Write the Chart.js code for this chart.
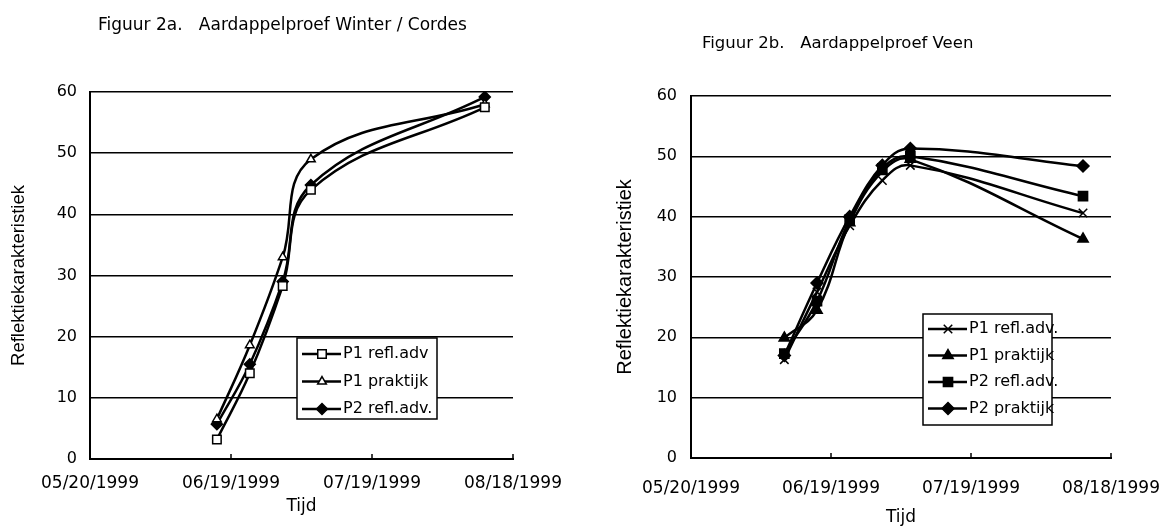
<!DOCTYPE html>
<html>
<head>
<meta charset="utf-8">
<script src="https://cdn.jsdelivr.net/npm/chart.js@4.4.1/dist/chart.umd.min.js"></script>
<style>
  body { margin:0; background:#fff; width:1164px; height:532px; position:relative; overflow:hidden; font-family:"DejaVu Sans", sans-serif; }
  .box { position:absolute; top:0; height:532px; }
  .title { position:absolute; line-height:18px; white-space:pre; color:#000; }
</style>
</head>
<body>
<div class="box" style="left:0;width:580px"><canvas id="chartA"></canvas></div>
<div class="box" style="left:580px;width:584px"><canvas id="chartB"></canvas></div>
<div class="title" style="left:98px;top:15px;font-size:17px">Figuur 2a.   Aardappelproef Winter / Cordes</div>
<div class="title" style="left:702px;top:34px;font-size:16.5px">Figuur 2b.   Aardappelproef Veen</div>
<script>
// x axis runs from startDate in steps of 30 days
var startDate = '1999-05-20';
var xStepDays = 30;
var xMaxDays = 90;
var yTicks = [0, 10, 20, 30, 40, 50, 60];

// Figuur 2a - Winter / Cordes
var datesA = ['1999-06-16', '1999-06-23', '1999-06-30', '1999-07-06', '1999-08-12'];
var labelsA = ['P1 refl.adv', 'P1 praktijk', 'P2 refl.adv.'];
var a_p1Refl = [3.2, 14, 28.3, 44, 57.5];
var a_p1Prak = [6.5, 18.6, 33, 49, 58];
var a_p2Refl = [5.7, 15.5, 29, 44.8, 59.2];

// Figuur 2b - Veen
var datesB = ['1999-06-09', '1999-06-16', '1999-06-23', '1999-06-30', '1999-07-06', '1999-08-12'];
var labelsB = ['P1 refl.adv.', 'P1 praktijk', 'P2 refl.adv.', 'P2 praktijk'];
var b_p1Refl = [16.3, 27.5, 38.5, 46, 48.5, 40.6];
var b_p1Prak = [19.9, 24.5, 39, 47.5, 49.5, 36.3];
var b_p2Refl = [17.3, 26, 39.5, 48, 50, 43.4];
var b_p2Prak = [17, 29, 40, 48.5, 51.3, 48.4];

var DAY = 86400000;
function dayOf(s) {
  var p = s.split('-');
  var p0 = startDate.split('-');
  return (Date.UTC(+p[0], p[1] - 1, +p[2]) - Date.UTC(+p0[0], p0[1] - 1, +p0[2])) / DAY;
}
function fmtDay(v) {
  var p0 = startDate.split('-');
  var d = new Date(Date.UTC(+p0[0], p0[1] - 1, +p0[2]) + v * DAY);
  var mm = ('0' + (d.getUTCMonth() + 1)).slice(-2);
  var dd = ('0' + d.getUTCDate()).slice(-2);
  return mm + '/' + dd + '/' + d.getUTCFullYear();
}
function points(dates, vals) {
  var out = [];
  for (var i = 0; i < dates.length; i++) out.push({x: dayOf(dates[i]), y: vals[i]});
  return out;
}

// legend box drawn inside the plot, like the excel original
var boxLegend = {
  id: 'boxLegend',
  afterDraw: function(chart, args, o) {
    var ctx = chart.ctx;
    ctx.save();
    ctx.fillStyle = '#fff';
    ctx.fillRect(o.x, o.y, o.w, o.h);
    ctx.lineWidth = 1.5;
    ctx.strokeStyle = '#000';
    ctx.strokeRect(o.x, o.y, o.w, o.h);
    ctx.font = '16px "DejaVu Sans", sans-serif';
    ctx.textBaseline = 'middle';
    chart.data.datasets.forEach(function(ds, i) {
      var y = o.y + o.first + i * o.step;
      ctx.strokeStyle = '#000';
      ctx.lineWidth = 2.5;
      ctx.beginPath();
      ctx.moveTo(o.x + 5, y);
      ctx.lineTo(o.x + 44, y);
      ctx.stroke();
      ctx.fillStyle = ds.pointBackgroundColor;
      ctx.strokeStyle = '#000';
      ctx.lineWidth = 1.5;
      Chart.helpers.drawPoint(ctx, {pointStyle: ds.pointStyle, radius: ds.pointRadius, borderWidth: 1.5, rotation: 0}, o.x + 25, y);
      ctx.fillStyle = '#000';
      ctx.fillText(ds.label, o.x + 46, y);
    });
    ctx.restore();
  }
};

// small tick marks pointing up from the date axis
var upTicks = {
  id: 'upTicks',
  afterDraw: function(chart) {
    var sc = chart.scales.x, ctx = chart.ctx, b = chart.chartArea.bottom;
    ctx.save();
    ctx.strokeStyle = '#000';
    ctx.lineWidth = 1.5;
    sc.ticks.forEach(function(t) {
      var px = Math.round(sc.getPixelForValue(t.value));
      ctx.beginPath();
      ctx.moveTo(px, b);
      ctx.lineTo(px, b - 5);
      ctx.stroke();
    });
    ctx.restore();
  }
};

function makeChart(id, datasets, cfg) {
  var ctx = document.getElementById(id).getContext('2d');
  return new Chart(ctx, {
    type: 'line',
    data: {datasets: datasets},
    plugins: [boxLegend, upTicks],
    options: {
      animation: false,
      responsive: true,
      maintainAspectRatio: false,
      layout: {padding: {top: cfg.top, right: cfg.right, left: 0, bottom: 0}},
      plugins: {
        legend: {display: false},
        tooltip: {enabled: false},
        boxLegend: cfg.legend
      },
      scales: {
        x: {
          type: 'linear',
          min: 0,
          max: xMaxDays,
          afterFit: function(s) { s.height = cfg.xHeight; s.paddingLeft = 0; s.paddingRight = 0; },
          ticks: {
            stepSize: xStepDays,
            color: '#000',
            padding: cfg.xTickPad,
            maxRotation: 0,
            font: {family: 'DejaVu Sans', size: 17},
            callback: function(v) { return fmtDay(v); }
          },
          grid: {drawOnChartArea: false, drawTicks: false},
          border: {color: '#000', width: 2},
          title: {display: true, text: 'Tijd', color: '#000', font: {family: 'DejaVu Sans', size: 17}, padding: {top: 0, bottom: cfg.xTitlePad}}
        },
        y: {
          min: 0,
          max: 60,
          afterFit: function(s) { s.width = cfg.yWidth; },
          afterBuildTicks: function(s) { s.ticks = yTicks.map(function(v) { return {value: v}; }); },
          ticks: {color: '#000', padding: cfg.yTickPad, font: {family: 'DejaVu Sans', size: 16}},
          grid: {color: '#000', lineWidth: 1.5, drawTicks: false},
          border: {color: '#000', width: 2},
          title: {display: true, text: 'Reflektiekarakteristiek', color: '#000', font: {family: 'Liberation Sans', size: cfg.yTitleSize}, padding: {top: cfg.yTitlePad, bottom: 0}}
        }
      }
    }
  });
}

function series(label, dates, vals, style, radius, fill) {
  return {
    label: label,
    data: points(dates, vals),
    borderColor: '#000',
    borderWidth: 2.5,
    tension: 0.4,
    pointStyle: style,
    pointRadius: radius,
    pointBackgroundColor: fill,
    pointBorderColor: '#000',
    pointBorderWidth: 1.5
  };
}

makeChart('chartA', [
  series(labelsA[0], datesA, a_p1Refl, 'rect', 6, '#fff'),
  series(labelsA[1], datesA, a_p1Prak, 'triangle', 5, '#fff'),
  series(labelsA[2], datesA, a_p2Refl, 'rectRot', 5.5, '#000')
], {
  top: 92, right: 67, xHeight: 73, yWidth: 90, xTickPad: 14, xTitlePad: 15, yTickPad: 13, yTitlePad: 8, yTitleSize: 18.5,
  legend: {x: 297, y: 338, w: 140, h: 81, first: 16, step: 27.5}
});

makeChart('chartB', [
  series(labelsB[0], datesB, b_p1Refl, 'crossRot', 6, '#000'),
  series(labelsB[1], datesB, b_p1Prak, 'triangle', 6, '#000'),
  series(labelsB[2], datesB, b_p2Refl, 'rect', 6.5, '#000'),
  series(labelsB[3], datesB, b_p2Prak, 'rectRot', 6, '#000')
], {
  top: 96, right: 53, xHeight: 74, yWidth: 111, xTickPad: 20, xTitlePad: 4, yTickPad: 14, yTitlePad: 33, yTitleSize: 20,
  legend: {x: 343, y: 314, w: 129, h: 111, first: 15, step: 26.5}
});
</script>
</body>
</html>
